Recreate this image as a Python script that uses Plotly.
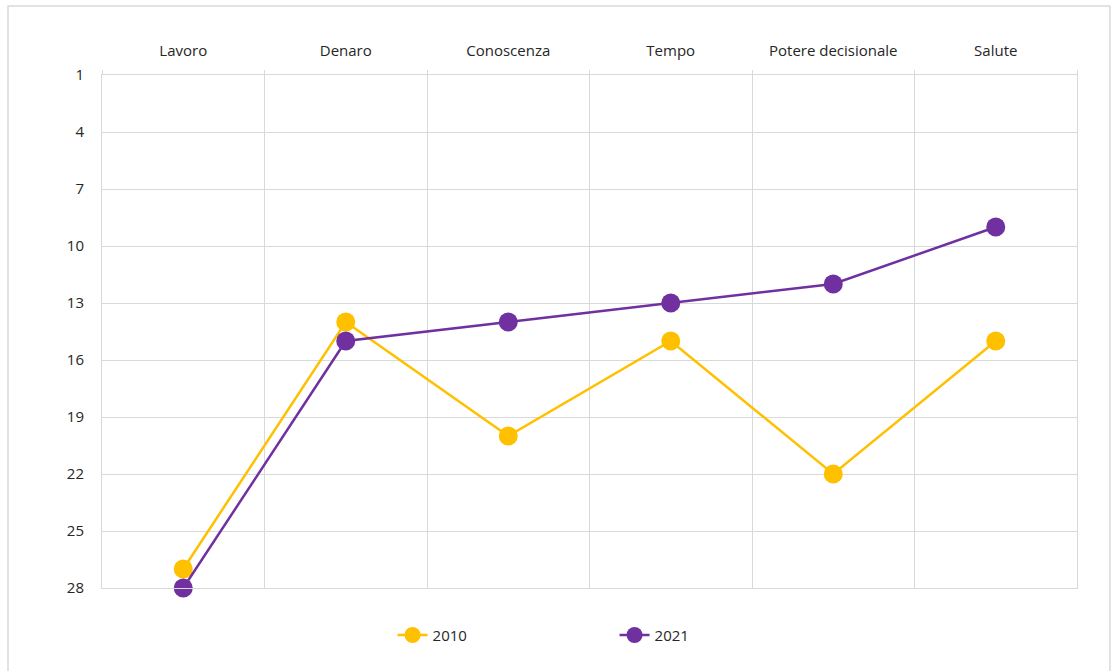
import plotly.graph_objects as go

categories = ["Lavoro", "Denaro", "Conoscenza", "Tempo", "Potere decisionale", "Salute"]
values_2010 = [27, 14, 20, 15, 22, 15]
values_2021 = [28, 15, 14, 13, 12, 9]
y_ticks = [1, 4, 7, 10, 13, 16, 19, 22, 25, 28]

xpos = list(range(len(categories)))
bounds = [i - 0.5 for i in range(len(categories) + 1)]

fig = go.Figure()
fig.add_trace(go.Scatter(x=xpos, y=values_2010, name="2010", mode="lines+markers",
                         line=dict(color="#FFC000", width=2.5), cliponaxis=False,
                         marker=dict(color="#FFC000", size=19)))
fig.add_trace(go.Scatter(x=xpos, y=values_2021, name="2021", mode="lines+markers",
                         line=dict(color="#7030A0", width=2.5), cliponaxis=False,
                         marker=dict(color="#7030A0", size=19)))

grid = "#d9d9d9"
fig.update_layout(
    width=1116, height=671,
    margin=dict(l=102, r=39, t=75, b=83),
    paper_bgcolor="white", plot_bgcolor="white",
    font=dict(family="Open Sans, Lato, sans-serif", size=15, color="#262626"),
    showlegend=True,
    legend=dict(orientation="h", x=0.298, y=-0.06, xanchor="left", yanchor="top",
                entrywidth=177, entrywidthmode="pixels", font=dict(size=15)),
    xaxis=dict(
        range=[-0.5, 5.5], side="top", tickvals=xpos, ticktext=categories,
        showgrid=False, zeroline=False, showline=True, mirror=True, linecolor=grid, linewidth=1,
        ticks="outside", ticklen=12, tickcolor="rgba(0,0,0,0)",
        minor=dict(tickvals=bounds, showgrid=True, gridcolor=grid, gridwidth=1,
                   ticks="outside", ticklen=4, tickcolor=grid),
        fixedrange=True,
    ),
    yaxis=dict(
        range=[28, 1], tickvals=y_ticks, showgrid=True, gridcolor=grid, gridwidth=1,
        zeroline=False, showline=True, mirror=True, linecolor=grid, linewidth=1,
        ticks="outside", ticklen=14, tickcolor="rgba(0,0,0,0)",
        fixedrange=True,
    ),
    shapes=[dict(type="rect", xref="paper", yref="paper",
                 x0=-0.0964, x1=1.0338, y0=-0.2, y1=1.1345,
                 line=dict(color=grid, width=1.5), fillcolor="rgba(0,0,0,0)", layer="below")],
)

fig.write_html("out.html", config={"displayModeBar": False},
               post_script="document.body.style.margin='0';document.body.style.overflow='hidden';")
